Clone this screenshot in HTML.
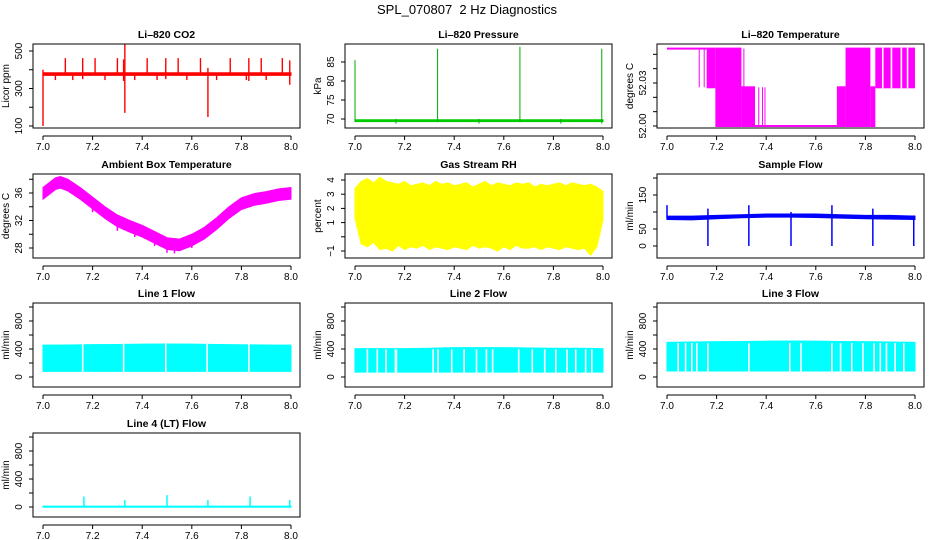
<!DOCTYPE html>
<html><head><meta charset="utf-8"><title>SPL_070807 2 Hz Diagnostics</title>
<style>
html,body{margin:0;padding:0;background:#fff;}
svg{display:block;font-family:"Liberation Sans",Arial,sans-serif;}
</style></head>
<body>
<svg id="chart" width="936" height="540" viewBox="0 0 936 540" xmlns="http://www.w3.org/2000/svg">
<rect x="0" y="0" width="936" height="540" fill="#fff"/>
<text x="467" y="14" text-anchor="middle" font-size="13" style="white-space:pre">SPL_070807  2 Hz Diagnostics</text>
</svg>
<script>
// ---------- data ----------
const xTicks=[7.0,7.2,7.4,7.6,7.8,8.0];
const xTickLabels=["7.0","7.2","7.4","7.6","7.8","8.0"];
// CO2
const co2BandX=[7.0,8.0];
const co2BandLo=[370,370];
const co2BandHi=[384,384];
const co2SpikeX=[7.0,7.09,7.16,7.21,7.30,7.325,7.33,7.42,7.495,7.545,7.635,7.665,7.755,7.83,7.88,7.965,7.995,7.12,7.05,7.25,7.37,7.46,7.58,7.70,7.82,7.9];
const co2SpikeHi=[400,462,462,462,462,455,540,462,462,462,462,410,462,462,462,462,450,380,380,380,380,380,380,380,380,380];
const co2SpikeLo=[100,375,350,375,375,340,170,375,350,375,375,148,375,340,375,375,320,345,345,345,345,345,345,345,345,345];
// Pressure
const presSpikeX=[7.0,7.333,7.665,7.995,7.165,7.5,7.83];
const presSpikeHi=[85.5,88.5,89.0,88.5,70.0,70.0,70.0];
const presSpikeLo=[69.2,69.2,69.2,68.8,68.8,68.8,68.8];
// Li-820 temperature segments
const tempSegX0=[7.0,7.16,7.195,7.30,7.355,7.685,7.72,7.82,7.84];
const tempSegX1=[7.16,7.195,7.30,7.355,7.685,7.72,7.82,7.84,8.0];
const tempSegLo=[52.054,52.027,52.0,52.0,52.0,52.0,52.0,52.0,52.027];
const tempSegHi=[52.054,52.054,52.054,52.027,52.0,52.027,52.054,52.027,52.054];
const tempLineX=[7.13,7.15,7.31,7.37,7.385,7.395,7.825,7.83];
const tempLineLo=[52.027,52.027,52.027,52.0,52.0,52.0,52.0,52.0];
const tempLineHi=[52.054,52.054,52.054,52.027,52.027,52.027,52.027,52.027];
// Ambient box temperature
const ambX=[7.0,7.05,7.07,7.1,7.15,7.2,7.25,7.3,7.35,7.4,7.45,7.5,7.55,7.6,7.65,7.7,7.75,7.8,7.85,7.9,7.95,8.0];
const ambMid=[36.0,37.4,37.6,37.2,36.0,34.6,33.2,32.0,31.2,30.5,29.6,28.7,28.5,29.2,30.2,31.6,33.2,34.5,35.1,35.4,35.8,36.0];
// Gas stream RH
const rhX=[7.0,7.025,7.05,7.075,7.1,7.125,7.15,7.175,7.2,7.225,7.25,7.275,7.3,7.325,7.35,7.375,7.4,7.425,7.45,7.475,7.5,7.525,7.55,7.575,7.6,7.625,7.65,7.675,7.7,7.725,7.75,7.775,7.8,7.825,7.85,7.875,7.9,7.925,7.95,7.975,8.0];
const rhHi=[3.4,3.9,4.1,3.8,4.2,3.9,3.8,3.7,3.9,3.6,3.7,3.8,3.6,3.9,3.7,3.8,3.6,3.7,3.8,3.5,3.7,3.9,3.6,3.8,3.7,3.6,3.8,3.7,3.8,3.5,3.7,3.6,3.7,3.8,3.6,3.8,3.7,3.6,3.7,3.5,3.2];
const rhLo=[1.3,-0.5,-0.7,-0.4,-0.9,-0.8,-1.0,-0.6,-0.9,-0.7,-0.8,-0.6,-0.9,-0.7,-0.8,-0.9,-0.7,-0.8,-0.9,-0.6,-0.8,-0.7,-0.8,-1.0,-0.7,-0.9,-0.6,-0.8,-0.8,-0.7,-0.9,-0.7,-0.8,-0.9,-0.7,-0.8,-0.9,-0.8,-1.3,-0.7,1.2];
// Sample flow
const sfX=[7.0,7.1,7.2,7.3,7.4,7.5,7.6,7.7,7.8,7.9,8.0];
const sfLo=[78,77,80,83,85,85,84,82,80,79,78];
const sfHi=[88,88,90,92,94,94,94,92,90,90,88];
const sfSpikeX=[7.0,7.165,7.33,7.5,7.665,7.83,7.995];
const sfSpikeHi=[120,110,120,100,120,110,90];
const sfSpikeLo=[80,0,0,0,0,0,0];
// Line flows
const flowX=[7.0,7.1,7.2,7.3,7.4,7.5,7.6,7.7,7.8,7.9,8.0];
const l1Hi=[455,458,462,465,470,472,470,465,460,458,455];
const l1Lo=[80,80,80,80,80,80,80,80,80,80,80];
const l1Gaps=[7.16,7.325,7.495,7.662,7.83];
const l2Hi=[405,405,405,410,420,420,420,415,410,410,405];
const l2Lo=[70,70,70,70,70,70,70,70,70,70,70];
const l2Gaps=[7.05,7.09,7.125,7.163,7.167,7.315,7.335,7.39,7.44,7.49,7.53,7.555,7.66,7.715,7.765,7.81,7.855,7.89,7.93,7.955];
const l3Hi=[495,500,505,508,512,515,512,508,505,500,495];
const l3Lo=[85,85,85,85,85,85,85,85,85,85,85];
const l3Gaps=[7.045,7.075,7.1,7.12,7.165,7.33,7.495,7.54,7.665,7.7,7.745,7.79,7.835,7.86,7.885,7.92,7.955];
// Line 4
const l4Base=[5,5];
const l4SpikeX=[7.165,7.33,7.5,7.665,7.835,7.995];
const l4SpikeHi=[150,100,170,100,150,100];

// ---------- drawing ----------
const NS="http://www.w3.org/2000/svg";
const svg=document.getElementById('chart');
const COLX=[43,355,667];
const ROWT=[44,174,303,433];
function el(tag,attrs,parent,txt){
  const e=document.createElementNS(NS,tag);
  for(const k in attrs) e.setAttribute(k,attrs[k]);
  if(txt!==undefined) e.textContent=txt;
  parent.appendChild(e);
  return e;
}
function mkPanel(col,row,title,ylab,v1,o1,v2,o2,ticks,labels,name){
  const x7=COLX[col],x8=x7+248,top=ROWT[row],bot=top+84,left=x7-10,right=x8+9;
  const g=el('g',{},svg);
  
  
  const X=v=>x7+(v-7)*248;
  const Y=v=>top+o1+(v-v1)*(o2-o1)/(v2-v1);
  const plot=el('g',{},g);
  
  
  const frame=el('rect',{x:left,y:top,width:right-left,height:bot-top,fill:'none',stroke:'#000','stroke-width':1},g);
  
  
  const t=el('text',{x:(left+right)/2,y:top-6,'text-anchor':'middle','font-size':10.5,'font-weight':'bold'},g,title);
  
  
  const xa=el('g',{},g);
  
  
  el('line',{x1:X(7),x2:X(8),y1:bot+8,y2:bot+8,stroke:'#000'},xa);
  xTicks.forEach((v,i)=>{
    el('line',{x1:X(v),x2:X(v),y1:bot+8,y2:bot+12,stroke:'#000'},xa);
    const lt=el('text',{x:X(v),y:bot+22,'text-anchor':'middle','font-size':10},xa,xTickLabels[i]);
    
    
  });
  const ya=el('g',{},g);
  
  
  el('line',{x1:left,x2:left,y1:Y(ticks[0]),y2:Y(ticks[ticks.length-1]),stroke:'#000'},ya);
  ticks.forEach((v,i)=>{
    el('line',{x1:left-4,x2:left,y1:Y(v),y2:Y(v),stroke:'#000'},ya);
    if(labels[i]){
      const lx=left-11,ly=Y(v);
      const lt=el('text',{x:lx,y:ly,'text-anchor':'middle','font-size':10,transform:`rotate(-90 ${lx} ${ly})`},ya,labels[i]);
      
      
    }
  });
  const yx=left-24,yy=(top+bot)/2;
  const yt=el('text',{x:yx,y:yy,'text-anchor':'middle','font-size':10,transform:`rotate(-90 ${yx} ${yy})`},g,ylab);
  
  
  return {X,Y,plot};
}
function band(p,xs,lo,hi,color){
  let pts=xs.map((x,i)=>p.X(x)+','+p.Y(hi[i]));
  for(let i=xs.length-1;i>=0;i--) pts.push(p.X(xs[i])+','+p.Y(lo[i]));
  const pg=el('polygon',{points:pts.join(' '),fill:color,stroke:color,'stroke-width':1},p.plot);
  
  
}
function spikes(p,xs,lo,hi,color,w){
  xs.forEach((x,i)=>{
    const l=el('line',{x1:p.X(x),x2:p.X(x),y1:p.Y(lo[i]),y2:p.Y(hi[i]),stroke:color,'stroke-width':w||1},p.plot);
    
    
  });
}
function gaps(p,xs,lo,hi){
  xs.forEach(x=>{
    const r=el('rect',{x:p.X(x)-0.8,y:p.Y(hi)-1,width:1.6,height:p.Y(lo)-p.Y(hi)+2,fill:'#fff'},p.plot);
    
    
  });
}

let p=mkPanel(0,0,'Li\u2013820 CO2','Licor ppm',500,7,100,82,[100,200,300,400,500],['100','','300','','500'],'co2');
band(p,co2BandX,co2BandLo,co2BandHi,'#ff0000');
spikes(p,co2SpikeX,co2SpikeLo,co2SpikeHi,'#ff0000',1.4);

p=mkPanel(1,0,'Li\u2013820 Pressure','kPa',70,75,85,18,[70,75,80,85],['70','75','80','85'],'pressure');
band(p,[7.0,8.0],[69.3,69.3],[69.8,69.8],'#00cc00');
spikes(p,presSpikeX,presSpikeLo,presSpikeHi,'#00aa00',1);

p=mkPanel(2,0,'Li\u2013820 Temperature','degrees C',52.0,82,52.03,39,[52.0,52.01,52.02,52.03,52.04,52.05],['52.00','','','52.03','',''],'li820-temperature');
tempSegX0.forEach((x0,i)=>{
  const y1=p.Y(tempSegHi[i]),y2=p.Y(tempSegLo[i]);
  const r=el('rect',{x:p.X(x0),y:y1-1,width:p.X(tempSegX1[i])-p.X(x0),height:y2-y1+2,fill:'#ff00ff'},p.plot);
  
  
});
spikes(p,tempLineX,tempLineLo,tempLineHi,'#ff00ff',1);
gaps(p,[7.87,7.905,7.945,7.97],52.027,52.054);

p=mkPanel(0,1,'Ambient Box Temperature','degrees C',28,74,36,19,[28,30,32,34,36,38],['28','','32','','36',''],'ambient-temperature');
band(p,ambX,ambMid.map(v=>v-0.9),ambMid.map(v=>v+0.8),'#ff00ff');
spikes(p,[7.2,7.3,7.37,7.45,7.5,7.53,7.6,7.74,7.87],[33.2,30.5,29.6,28.3,27.3,27.2,28.0,32.0,34.3],[34.6,32,31.2,29.6,28.7,28.5,29.2,33.2,35.1],'#ff00ff',1.5);

p=mkPanel(1,1,'Gas Stream RH','percent',-1,77,4,6,[-1,0,1,2,3,4],['\u22121','','1','2','3','4'],'gas-stream-rh');
band(p,rhX,rhLo,rhHi,'#ffff00');

p=mkPanel(2,1,'Sample Flow','ml/min',0,72,150,21,[0,50,100,150,200],['0','50','','150',''],'sample-flow');
band(p,sfX,sfLo,sfHi,'#0000ff');
spikes(p,sfSpikeX,sfSpikeLo,sfSpikeHi,'#0000ff',1.5);

p=mkPanel(0,2,'Line 1 Flow','ml/min',0,74,800,18,[0,200,400,600,800,1000],['0','','400','','800',''],'line1-flow');
band(p,flowX,l1Lo,l1Hi,'#00ffff');
gaps(p,l1Gaps,80,480);
p=mkPanel(1,2,'Line 2 Flow','ml/min',0,74,800,18,[0,200,400,600,800,1000],['0','','400','','800',''],'line2-flow');
band(p,flowX,l2Lo,l2Hi,'#00ffff');
gaps(p,l2Gaps,70,380);
p=mkPanel(2,2,'Line 3 Flow','ml/min',0,74,800,18,[0,200,400,600,800,1000],['0','','400','','800',''],'line3-flow');
band(p,flowX,l3Lo,l3Hi,'#00ffff');
gaps(p,l3Gaps,85,470);
p=mkPanel(0,3,'Line 4 (LT) Flow','ml/min',0,74,800,18,[0,200,400,600,800,1000],['0','','400','','800',''],'line4-flow');
band(p,[7.0,8.0],l4Base.map(v=>v-8),l4Base.map(v=>v+8),'#00ffff');
spikes(p,l4SpikeX,l4SpikeX.map(()=>0),l4SpikeHi,'#00ffff',1.5);
</script>
</body></html>
